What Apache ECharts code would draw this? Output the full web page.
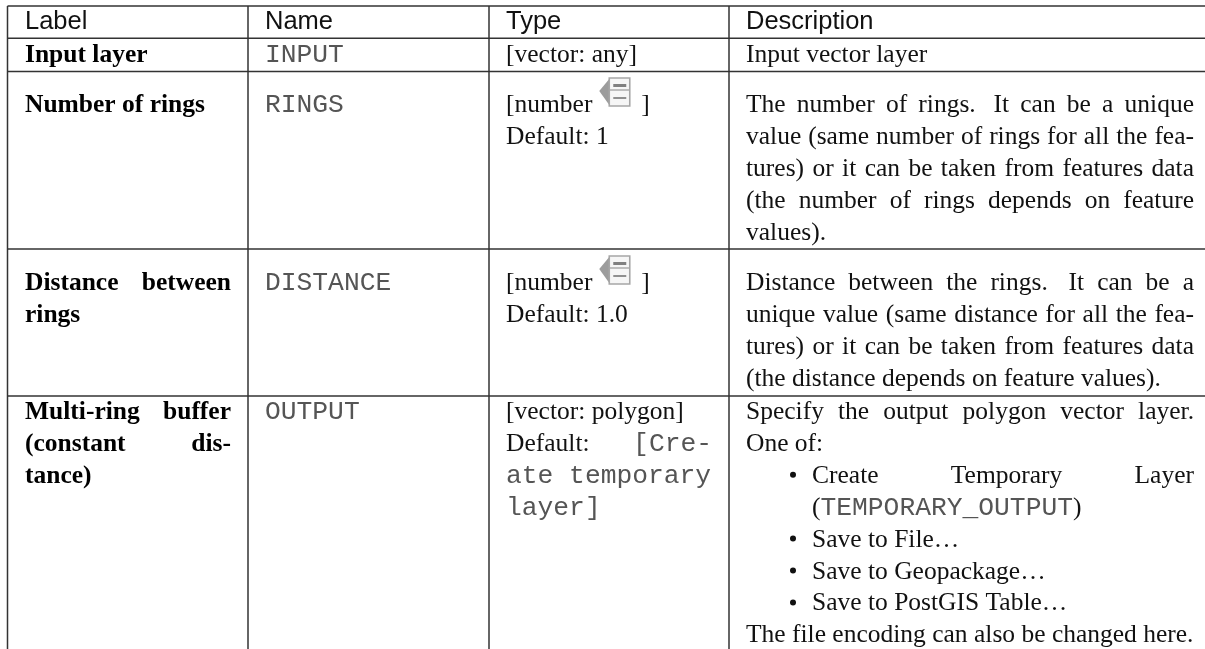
<!DOCTYPE html>
<html><head><meta charset="utf-8">
<style>html,body{margin:0;padding:0;background:#fff}#c{width:1205px;height:649px}</style>
<script src="https://cdn.jsdelivr.net/npm/echarts@6/dist/echarts.min.js"></script>
</head><body><div id="c"></div>
<script>
// ---- table content ----
const headers = ["Label", "Name", "Type", "Description"];
const labels = [["Input layer"], ["Number of rings"], ["Distance between|", "rings"], ["Multi-ring buffer|", "(constant dis-|", "tance)"]];
const names = [["`INPUT"], ["`RINGS"], ["`DISTANCE"], ["`OUTPUT"]];
const types = [["[vector: any]"], ["[number @ ]", "Default: 1"], ["[number @ ]", "Default: 1.0"],
  ["[vector: polygon]", "Default: `[Cre-|", "`ate temporary", "`layer]"]];
const descriptions = [["Input vector layer"],
  ["The number of rings.  It can be a unique|", "value (same number of rings for all the fea-|", "tures) or it can be taken from features data|", "(the number of rings depends on feature|", "values)."],
  ["Distance between the rings.  It can be a|", "unique value (same distance for all the fea-|", "tures) or it can be taken from features data|", "(the distance depends on feature values)."],
  ["Specify the output polygon vector layer.|", "One of:", "* Create Temporary Layer|", "> (`TEMPORARY_OUTPUT`)", "* Save to File…", "* Save to Geopackage…", "* Save to PostGIS Table…", "The file encoding can also be changed here."]];

// ---- layout ----
const W = 1205, H = 649;
const colX = [7.5, 248, 489, 729], colText = [25, 265, 506, 746], colRight = [231, 472, 712, 1194];
const rowY = [6, 38.3, 71.5, 249, 396];
const firstBase = [62, 112, 290, 419];
const headBase = 28.5, pitch = 31.9, FS = 25.5, MS = 26.3;
const SERIF = '"Liberation Serif"', SANS = '"Liberation Sans"', MONO = '"Liberation Mono"';
const fontOf = { serif: `${FS}px ${SERIF}`, bold: `bold ${FS}px ${SERIF}`, mono: `${MS}px ${MONO}`, sans: `${FS}px ${SANS}` };
const colorOf = { serif: '#111', bold: '#000', mono: '#555', sans: '#111' };
const ICON = 36;

const ctx = document.createElement('canvas').getContext('2d');
const measure = (t, k) => { ctx.font = fontOf[k]; return ctx.measureText(t).width; };
const midOff = {};
Object.keys(fontOf).forEach(k => { ctx.font = fontOf[k]; ctx.textBaseline = 'middle'; midOff[k] = Math.abs(ctx.measureText('x').alphabeticBaseline); });
ctx.textBaseline = 'alphabetic';

function layoutLine(raw, x0, x1, base, baseFont) {
  const justify = raw.endsWith('|'); if (justify) raw = raw.slice(0, -1);
  const words = raw.split(/( {2}| )/);
  const tokens = [];
  let font = baseFont;
  for (let i = 0; i < words.length; i += 2) {
    const runs = [];
    words[i].split('`').forEach((p, j) => { if (j > 0) font = font === 'mono' ? baseFont : 'mono'; if (p) runs.push({ t: p, k: font }); });
    tokens.push({ runs, weight: words[i + 1] === '  ' ? 1.6 : 1, endFont: font });
  }
  const widthOf = r => r.t === '@' ? ICON : measure(r.t, r.k);
  const tw = tokens.map(tk => tk.runs.reduce((a, r) => a + widthOf(r), 0));
  const sum = tw.reduce((a, b) => a + b, 0);
  const weights = tokens.slice(0, -1).reduce((a, tk) => a + tk.weight, 0);
  const unit = justify && tokens.length > 1 ? (x1 - x0 - sum) / weights : 0;
  const out = []; let x = x0;
  tokens.forEach(tk => {
    tk.runs.forEach(r => {
      if (r.t === '@') out.push({ icon: true, x, base });
      else out.push({ t: r.t, k: r.k, x, base });
      x += widthOf(r);
    });
    x += justify ? unit * tk.weight : measure(' ', tk.endFont);
  });
  return out;
}

const items = [];
headers.forEach((h, c) => items.push({ t: h, k: 'sans', x: colText[c], base: headBase }));
[labels, names, types, descriptions].forEach((col, c) => {
  col.forEach((lines, r) => lines.forEach((line, i) => {
    let x0 = colText[c], txt = line;
    if (txt.startsWith('* ')) { items.push({ bullet: true, x: x0 + 47, base: firstBase[r] + i * pitch }); txt = txt.slice(2); x0 += 66; }
    else if (txt.startsWith('> ')) { txt = txt.slice(2); x0 += 66; }
    layoutLine(txt, x0, colRight[c], firstBase[r] + i * pitch, c === 0 ? 'bold' : 'serif').forEach(o => items.push(o));
  }));
});
const hLines = rowY.map(y => ({ h: y }));
const vLines = colX.map(x => ({ v: x }));
const all = [...hLines, ...vLines, ...items];

function renderItem(params, api) {
  const d = all[params.dataIndex];
  const P = (x, y) => api.coord([x, y]);
  const lineStyle = { stroke: '#333', lineWidth: 1.5 };
  if (d.h !== undefined) { const a = P(colX[0], d.h), b = P(W, d.h); return { type: 'line', shape: { x1: a[0], y1: a[1], x2: b[0], y2: b[1] }, style: lineStyle }; }
  if (d.v !== undefined) { const a = P(d.v, rowY[0]), b = P(d.v, H); return { type: 'line', shape: { x1: a[0], y1: a[1], x2: b[0], y2: b[1] }, style: lineStyle }; }
  if (d.bullet) { const c = P(d.x, d.base - 8); return { type: 'circle', shape: { cx: c[0], cy: c[1], r: 3 }, style: { fill: '#111' } }; }
  if (d.icon) {
    const o = P(d.x, d.base);
    const X = o[0] + 0.5, Y = o[1] - 34;
    return { type: 'group', children: [
      { type: 'polygon', shape: { points: [[X + 10, Y + 1], [X + 10, Y + 27], [X, Y + 13]] }, style: { fill: '#9c9c9c' } },
      { type: 'rect', shape: { x: X + 10, y: Y, width: 20.5, height: 28 }, style: { fill: '#f6f6f6', stroke: '#a6a6a6', lineWidth: 1.6 } },
      { type: 'line', shape: { x1: X + 10, y1: Y + 12, x2: X + 30.5, y2: Y + 12 }, style: { stroke: '#a6a6a6', lineWidth: 1.4 } },
      { type: 'rect', shape: { x: X + 14, y: Y + 6, width: 13, height: 3 }, style: { fill: '#808080' } },
      { type: 'rect', shape: { x: X + 14, y: Y + 19, width: 13, height: 2 }, style: { fill: '#909090' } }
    ] };
  }
  const p = P(d.x, d.base - midOff[d.k]);
  return { type: 'text', style: { x: p[0], y: p[1], text: d.t, font: fontOf[d.k], fill: colorOf[d.k], align: 'left', verticalAlign: 'middle' } };
}

const chart = echarts.init(document.getElementById('c'), null, { renderer: 'canvas' });
chart.setOption({
  animation: false,
  backgroundColor: '#fff',
  grid: { left: 0, right: 0, top: 0, bottom: 0 },
  xAxis: { type: 'value', min: 0, max: W, show: false },
  yAxis: { type: 'value', min: 0, max: H, inverse: true, show: false },
  series: [{ type: 'custom', coordinateSystem: 'cartesian2d', silent: true, clip: false, renderItem, data: all.map((d, i) => [i, i]) }]
});
</script></body></html>
